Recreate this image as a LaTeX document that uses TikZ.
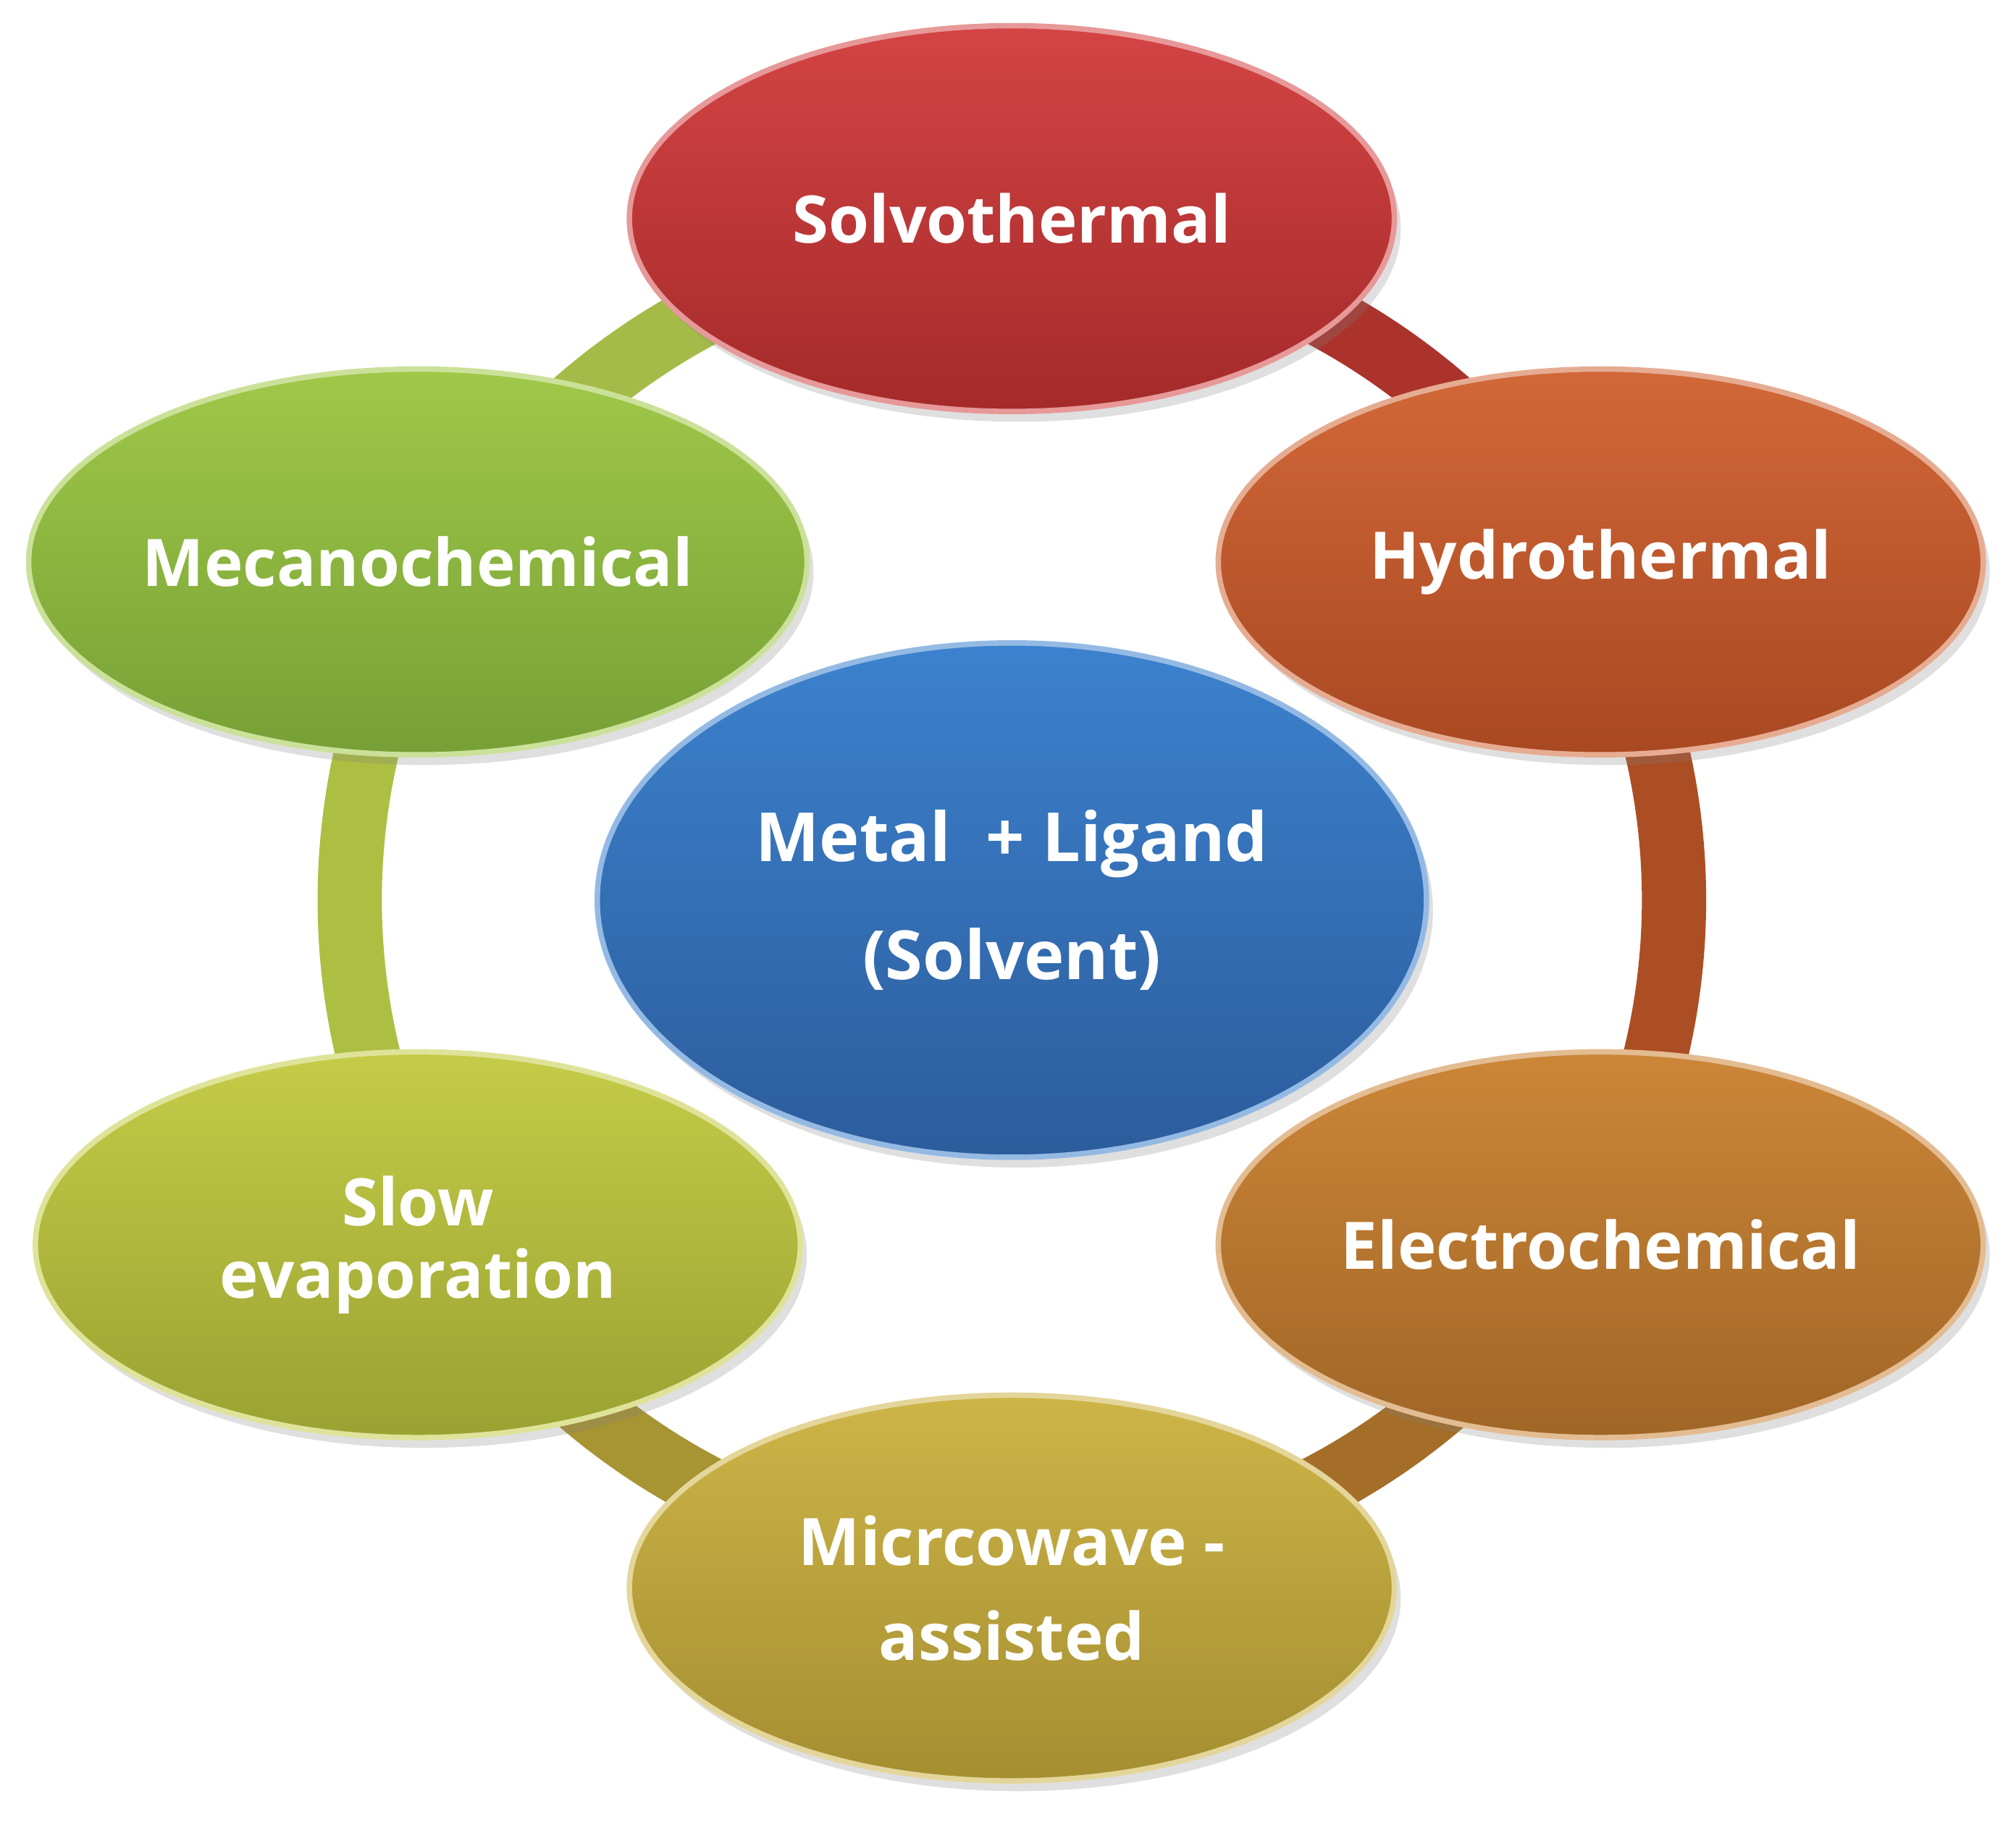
\documentclass[tikz,border=0pt]{standalone}
\usepackage{fontspec}
\setmainfont{Open Sans}
\usetikzlibrary{shapes.geometric,shadows}
\definecolor{cR1}{HTML}{D44444}\definecolor{cR2}{HTML}{A42A2A}
\definecolor{cH1}{HTML}{D26838}\definecolor{cH2}{HTML}{A84822}
\definecolor{cE1}{HTML}{CC8638}\definecolor{cE2}{HTML}{A06626}
\definecolor{cM1}{HTML}{CDB548}\definecolor{cM2}{HTML}{A48E30}
\definecolor{cS1}{HTML}{C4CC48}\definecolor{cS2}{HTML}{9AA232}
\definecolor{cK1}{HTML}{A0C848}\definecolor{cK2}{HTML}{76A036}
\definecolor{cB1}{HTML}{3C82CE}\definecolor{cB2}{HTML}{2C5C9C}
\tikzset{
 oval/.style 2 args={ellipse, minimum width=5.95cm, minimum height=3.0cm, inner sep=0pt,
   top color=#1, bottom color=#2, draw=#1!55!white, line width=1.2pt,
   drop shadow={opacity=0.25, shadow xshift=0.05cm, shadow yshift=-0.08cm},
   text=white, font=\bfseries\fontsize{14.5}{16}\selectfont, align=center},
 ringseg/.style={line width=0.5cm, draw=#1}
}
\begin{document}
\begin{tikzpicture}
\useasboundingbox (0,0) rectangle (15.68,14.19);
\coordinate (c) at (7.87,7.19);
\foreach \a/\col in {90/cR2!85!cH1, 30/cH2!90!cE1, -30/cE2!90!cM1, -90/cM2!90!cS1, -150/cS1!70!cK2, 150/cK1!90!cR1}{
  \draw[ringseg=\col] (c) ++(\a:5.15) arc[start angle=\a, delta angle=-60, radius=5.15];
}
\node[oval={cR1}{cR2}] (solvo) at (7.87,12.49) {Solvothermal};
\node[oval={cH1}{cH2}] (hydro) at (12.45,9.82) {Hydrothermal};
\node[oval={cE1}{cE2}] (electro) at (12.45,4.51) {Electrochemical};
\node[oval={cM1}{cM2}, font=\bfseries\fontsize{14.5}{21}\selectfont] (micro) at (7.87,1.84) {Micrcowave -\\assisted};
\node[oval={cS1}{cS2}] (slow) at (3.25,4.51) {Slow\\evaporation};
\node[oval={cK1}{cK2}] (mecano) at (3.25,9.82) {Mecanochemical};
\node[oval={cB1}{cB2}, minimum width=6.45cm, minimum height=4.0cm, font=\bfseries\fontsize{15}{26}\selectfont] (center) at (c) {Metal \ + Ligand\\(Solvent)};
\end{tikzpicture}
\end{document}
